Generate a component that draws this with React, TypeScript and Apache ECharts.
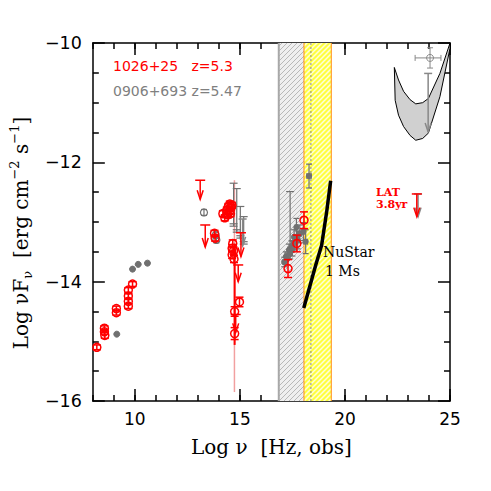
import React, { useEffect, useRef } from 'react';
import * as echarts from 'echarts';

// ---------------- data ----------------
const xTickLabels = [10, 15, 20, 25];
const yTickLabels = [-16, -14, -12, -10];

// 1026+25 (red) open circles with symmetric y errors
const redX = [8.19, 8.55, 8.55, 8.57, 9.12, 9.12, 9.69, 9.69, 9.69, 9.69, 9.89,
  13.79, 13.82,
  14.19, 14.28, 14.38, 14.45, 14.52, 14.58, 14.62, 14.5, 14.42, 14.55,
  14.66, 14.63, 14.63, 14.98, 14.75, 14.75, 14.72, 14.7,
  17.29, 17.71, 18.05];
const redY = [-15.10, -14.78, -14.84, -14.90, -14.45, -14.52, -14.14, -14.24, -14.33, -14.41, -14.04,
  -13.19, -13.27,
  -12.86, -12.93, -12.80, -12.74, -12.70, -12.76, -12.72, -12.82, -12.88, -12.86,
  -13.36, -13.44, -13.55, -14.34, -14.50, -14.87, -13.62, -13.48,
  -13.78, -13.36, -12.97];
const redErr = [0.04, 0.04, 0.04, 0.05, 0.04, 0.04, 0.04, 0.04, 0.04, 0.04, 0.04,
  0.05, 0.05,
  0.05, 0.05, 0.05, 0.05, 0.05, 0.05, 0.05, 0.05, 0.05, 0.05,
  0.06, 0.06, 0.06, 0.08, 0.08, 0.1, 0.06, 0.06,
  0.15, 0.14, 0.14];

// red long optical error bars
const redBarX = [14.75];
const redBarLo = [-15.06];
const redBarHi = [-13.36];
const pinkBarX = [14.74];
const pinkBarLo = [-15.85];
const pinkBarHi = [-12.30];

// red upper limits
const redUlX = [13.11, 13.35, 15.05, 14.92, 14.80];
const redUlTop = [-12.30, -13.05, -13.18, -13.72, -14.55];
const redUlTip = [-12.62, -13.42, -13.58, -14.0, -14.85];

// Fermi-LAT 3.8 yr upper limit
const latX = [23.42];
const latTop = [-12.53];
const latTip = [-12.91];

// 0906+693 (grey)
const greyRadioX = [9.14, 9.89, 10.16, 10.60];
const greyRadioY = [-14.88, -13.79, -13.71, -13.69];

const greyOptX = [13.29, 13.85, 13.88];
const greyOptY = [-12.84, -13.22, -13.30];
const greyOptErr = [0.05, 0.05, 0.05];

const greyBarX = [14.70, 14.85, 15.02, 15.18];
const greyBarLo = [-13.05, -13.15, -13.25, -13.35];
const greyBarHi = [-12.35, -12.44, -12.74, -12.91];

const greyUlX = [15.13, 23.48, 23.96];
const greyUlTop = [-12.95, -12.53, -10.51];
const greyUlTip = [-13.40, -12.91, -11.49];

const greyXrayX = [17.11, 17.19, 17.25, 17.34, 17.39, 17.46, 17.5, 17.58, 17.62, 17.69, 17.75, 17.85, 18.02, 18.13, 18.29];
const greyXrayY = [-13.67, -13.58, -13.62, -13.47, -13.52, -13.41, -13.45, -13.25, -13.35, -13.09, -13.3, -13.2, -13.16, -13.33, -12.23];
const greyXrayErr = [0.08, 0.08, 0.1, 0.1, 0.1, 0.1, 0.12, 0.12, 0.12, 0.15, 0.15, 0.15, 0.15, 0.2, 0.2];
const greyXrayXErr = [0.06, 0.06, 0.06, 0.06, 0.06, 0.06, 0.06, 0.06, 0.06, 0.06, 0.06, 0.06, 0.06, 0.08, 0.1];

const greyLongX = [17.39];
const greyLongLo = [-13.6];
const greyLongHi = [-12.49];

const greyGammaX = [24.05];
const greyGammaY = [-10.25];
const greyGammaXLo = [23.34];
const greyGammaXHi = [24.57];
const greyGammaErr = [0.17];

// LAT butterfly
const bowUpX = [22.35, 22.55, 22.79, 23.10, 23.37, 23.70, 23.97, 24.52, 25.0];
const bowUpY = [-10.41, -10.62, -10.81, -10.95, -11.02, -11.00, -10.93, -10.51, -10.0];
const bowLoX = [22.39, 22.55, 22.79, 23.10, 23.37, 23.70, 23.97, 24.52, 25.0];
const bowLoY = [-10.96, -11.21, -11.40, -11.55, -11.63, -11.60, -11.51, -10.90, -10.09];

// NuSTAR 1 Ms sensitivity
const nuX = [18.04, 18.61, 18.89, 19.13, 19.32];
const nuY = [-14.44, -13.72, -13.39, -12.83, -12.31];

// bands
const xrtBand = [16.85, 18.38];
const nuBand = [18.05, 19.35];

// ---------------- styling helpers ----------------
const RED = '#ff0000';
const GREY = '#707070';
const PINK = '#f2a0a0';
const SANS = 'DejaVu Sans';
const SERIF = 'DejaVu Serif';

const fmt = (v: number) => String(v).replace('-', '\u2212');

const hatch = (bg: string, fg: string, w: number) => ({
  image: 'data:image/svg+xml;charset=utf-8,' + encodeURIComponent(
    `<svg xmlns="http://www.w3.org/2000/svg" width="5" height="5"><rect width="5" height="5" fill="${bg}"/><path d="M-1 1 L1 -1 M0 5 L5 0 M4 6 L6 4" stroke="${fg}" stroke-width="${w}"/></svg>`),
  repeat: 'repeat',
  imageWidth: 5,
  imageHeight: 5,
});

const ln = (x1: number, y1: number, x2: number, y2: number, color: string, lw: number, dash?: number[]) => ({
  type: 'line', shape: { x1, y1, x2, y2 }, style: { stroke: color, lineWidth: lw, lineDash: dash },
});

const errItem = (color: string, r: number, filled: boolean, cap: number, lw: number, xerr: boolean) =>
  (_p: any, api: any) => {
    const x = api.value(0), y = api.value(1);
    const c = api.coord([x, y]);
    const pl = api.coord([x, api.value(2)]);
    const ph = api.coord([x, api.value(3)]);
    const ch: any[] = [
      ln(c[0], pl[1], c[0], ph[1], color, lw),
      ln(c[0] - cap, pl[1], c[0] + cap, pl[1], color, lw),
      ln(c[0] - cap, ph[1], c[0] + cap, ph[1], color, lw),
    ];
    if (xerr) {
      const xl = api.coord([api.value(4), y]);
      const xh = api.coord([api.value(5), y]);
      ch.push(ln(xl[0], c[1], xh[0], c[1], color, lw));
      ch.push(ln(xl[0], c[1] - cap, xl[0], c[1] + cap, color, lw));
      ch.push(ln(xh[0], c[1] - cap, xh[0], c[1] + cap, color, lw));
    }
    if (r > 0) {
      ch.push({ type: 'circle', shape: { cx: c[0], cy: c[1], r },
        style: { fill: filled ? color : 'none', stroke: color, lineWidth: lw } });
    }
    return { type: 'group', children: ch };
  };

const ulItem = (color: string, lw: number, capW: number) => (_p: any, api: any) => {
  const t = api.coord([api.value(0), api.value(1)]);
  const b = api.coord([api.value(0), api.value(2)]);
  return {
    type: 'group',
    children: [
      ln(t[0] - capW, t[1], t[0] + capW, t[1], color, lw),
      ln(t[0], t[1], b[0], b[1], color, lw),
      { type: 'polyline', shape: { points: [[b[0] - 3, b[1] - 9], [b[0], b[1]], [b[0] + 3, b[1] - 9]] },
        style: { stroke: color, lineWidth: lw, fill: 'none' } },
    ],
  };
};

const barItem = (color: string, lw: number, cap: number) => (_p: any, api: any) => {
  const lo = api.coord([api.value(0), api.value(1)]);
  const hi = api.coord([api.value(0), api.value(2)]);
  const ch: any[] = [ln(lo[0], lo[1], hi[0], hi[1], color, lw)];
  if (cap > 0) {
    ch.push(ln(hi[0] - cap, hi[1], hi[0] + cap, hi[1], color, lw));
  }
  return { type: 'group', children: ch };
};

const bandItem = (fill: any, edge: string, edgeW: number, leftOnly: boolean) => (_p: any, api: any) => {
  const a = api.coord([api.value(0), -10]);
  const b = api.coord([api.value(1), -16]);
  const ch: any[] = [
    { type: 'rect', shape: { x: a[0], y: a[1], width: b[0] - a[0], height: b[1] - a[1] }, style: { fill } },
    ln(a[0], a[1], a[0], b[1], edge, edgeW),
  ];
  if (!leftOnly) ch.push(ln(b[0], a[1], b[0], b[1], edge, edgeW));
  return { type: 'group', children: ch };
};

const dottedItem = (_p: any, api: any) => {
  const a = api.coord([api.value(0), -10]);
  const b = api.coord([api.value(0), -16]);
  return ln(a[0], a[1], b[0], b[1], '#8a8a8a', 1, [2, 2]);
};

const bowItem = (_p: any, api: any) => {
  const pts: number[][] = [];
  bowUpX.forEach((x, i) => pts.push(api.coord([x, bowUpY[i]])));
  for (let i = bowLoX.length - 1; i >= 0; i--) pts.push(api.coord([bowLoX[i], bowLoY[i]]));
  return { type: 'polygon', shape: { points: pts, smooth: 0 }, style: { fill: '#d0d0d0', stroke: '#000', lineWidth: 1 } };
};

const custom = (data: any[], renderItem: any, z = 2) => ({
  type: 'custom', xAxisIndex: 0, yAxisIndex: 0, clip: true, z, data, renderItem,
  silent: true,
});

const axisLineStyle = { color: '#000', width: 1.5 };

export default function App() {
  const ref = useRef<HTMLDivElement>(null);
  useEffect(() => {
    const chart = echarts.init(ref.current!, null, { renderer: 'svg' });
    const baseX = (pos: string) => ({
      type: 'value', min: 8, max: 25, interval: 1, position: pos,
      axisLine: { show: true, onZero: false, lineStyle: axisLineStyle },
      axisTick: { show: true, inside: true, length: 6, lineStyle: axisLineStyle },
      axisLabel: { show: false },
      splitLine: { show: false },
    });
    const majorX = (pos: string) => ({
      type: 'value', min: 8, max: 25, position: pos,
      axisLine: { show: false, onZero: false },
      axisTick: { show: true, inside: true, length: 12, customValues: xTickLabels, lineStyle: axisLineStyle },
      axisLabel: { show: false },
      splitLine: { show: false },
    });
    const baseY = (pos: string) => ({
      type: 'value', min: -16, max: -10, interval: 2, position: pos,
      axisLine: { show: true, onZero: false, lineStyle: axisLineStyle },
      axisTick: { show: true, inside: true, length: 12, lineStyle: axisLineStyle },
      minorTick: { show: true, splitNumber: 4, length: 6, lineStyle: axisLineStyle },
      axisLabel: { show: false },
      splitLine: { show: false },
      minorSplitLine: { show: false },
    });
    const option: any = {
      animation: false,
      backgroundColor: '#fff',
      grid: { left: 91, top: 43, right: 41, bottom: 90, containLabel: false },
      xAxis: [
        {
          ...baseX('bottom'),
          axisLabel: {
            show: true, margin: 9, fontFamily: SANS, fontSize: 17, color: '#000',
            formatter: (v: number) => (xTickLabels.includes(v) ? fmt(v) : ''),
          },
          name: 'Log \u03bd  [Hz, obs]', nameLocation: 'middle', nameGap: 36,
          nameTextStyle: { fontFamily: SERIF, fontSize: 20, color: '#000' },
        },
        majorX('bottom'),
        baseX('top'),
        majorX('top'),
      ],
      yAxis: [
        {
          ...baseY('left'),
          axisLabel: {
            show: true, margin: 11, fontFamily: SANS, fontSize: 17.5, color: '#000',
            formatter: (v: number) => (yTickLabels.includes(v) ? fmt(v) : ''),
          },
          name: '{a|Log \u03bdF}{s|\u03bd}{a|  [erg cm}{p|\u22122}{a| s}{p|\u22121}{a|]}',
          nameLocation: 'middle', nameGap: 56, nameRotate: 90,
          nameTextStyle: {
            fontFamily: SERIF, fontSize: 20, color: '#000',
            padding: [0, 22, 0, 0],
            rich: {
              a: { fontFamily: SERIF, fontSize: 20, color: '#000', lineHeight: 26 },
              s: { fontFamily: SERIF, fontSize: 13, color: '#000', lineHeight: 13, verticalAlign: 'bottom' },
              p: { fontFamily: SERIF, fontSize: 13, color: '#000', lineHeight: 13, verticalAlign: 'top' },
            },
          },
        },
        baseY('right'),
      ],
      series: [
        custom([[xrtBand[0], xrtBand[1]]], bandItem(hatch('#efefef', '#b8b8b8', 1), '#a8a8a8', 2, true), 1),
        custom([[nuBand[0], nuBand[1]]], bandItem(hatch('#ffff40', '#ffffd8', 1.5), '#ff8c1a', 1, false), 1),
        custom([[xrtBand[1]]], dottedItem, 1),
        custom([[0]], bowItem, 2),
        custom(pinkBarX.map((x, i) => [x, pinkBarLo[i], pinkBarHi[i]]), barItem(PINK, 1.5, 0), 2),
        // grey data
        custom(greyRadioX.map((x, i) => [x, greyRadioY[i], greyRadioY[i], greyRadioY[i]]), errItem(GREY, 3, true, 0, 1, false), 3),
        custom(greyOptX.map((x, i) => [x, greyOptY[i], greyOptY[i] - greyOptErr[i], greyOptY[i] + greyOptErr[i]]), errItem(GREY, 3.5, false, 3, 1.2, false), 3),
        custom(greyBarX.map((x, i) => [x, greyBarLo[i], greyBarHi[i]]), barItem(GREY, 1.2, 4), 3),
        custom(greyBarX.map((x, i) => [x, greyBarLo[i], greyBarLo[i] - 0.02, greyBarLo[i] + 0.02]), errItem(GREY, 0, false, 4, 1.2, false), 3),
        custom(greyLongX.map((x, i) => [x, greyLongLo[i], greyLongHi[i]]), barItem(GREY, 1.2, 4), 3),
        custom(greyXrayX.map((x, i) => [x, greyXrayY[i], greyXrayY[i] - greyXrayErr[i], greyXrayY[i] + greyXrayErr[i], x - greyXrayXErr[i], x + greyXrayXErr[i]]), errItem(GREY, 2.5, true, 3, 1.2, true), 3),
        custom(greyGammaX.map((x, i) => [x, greyGammaY[i], greyGammaY[i] - greyGammaErr[i], greyGammaY[i] + greyGammaErr[i], greyGammaXLo[i], greyGammaXHi[i]]), errItem('#888888', 3.5, false, 3, 1, true), 3),
        custom(greyUlX.map((x, i) => [x, greyUlTop[i], greyUlTip[i]]), ulItem('#888888', 1.5, 4), 3),
        // red data
        custom(redBarX.map((x, i) => [x, redBarLo[i], redBarHi[i]]), barItem(RED, 2, 0), 4),
        custom(redX.map((x, i) => [x, redY[i], redY[i] - redErr[i], redY[i] + redErr[i]]), errItem(RED, 4, false, 4, 1.5, false), 4),
        custom(redUlX.map((x, i) => [x, redUlTop[i], redUlTip[i]]), ulItem(RED, 1.5, 5), 4),
        custom(latX.map((x, i) => [x, latTop[i], latTip[i]]), ulItem(RED, 1.5, 5), 4),
        // NuSTAR curve
        {
          type: 'line', xAxisIndex: 0, yAxisIndex: 0, z: 5, symbol: 'none',
          data: nuX.map((x, i) => [x, nuY[i]]),
          lineStyle: { color: '#000', width: 3.5 },
          silent: true,
        },
      ],
      graphic: [
        { type: 'text', z: 100, left: 113, top: 59, style: { text: '1026+25   z=5.3', fill: RED, font: `14px "${SANS}"` } },
        { type: 'text', z: 100, left: 113, top: 84, style: { text: '0906+693 z=5.47', fill: '#808080', font: `14px "${SANS}"` } },
        { type: 'text', z: 100, left: 323, top: 245, style: { text: 'NuStar', fill: '#000', font: `14px "${SERIF}"` } },
        { type: 'text', z: 100, left: 325, top: 264, style: { text: '1 Ms', fill: '#000', font: `14px "${SERIF}"` } },
        { type: 'text', z: 100, left: 376, top: 187, style: { text: 'LAT', fill: RED, font: `bold 11px "${SERIF}"` } },
        { type: 'text', z: 100, left: 376, top: 199, style: { text: '3.8yr', fill: RED, font: `bold 11px "${SERIF}"` } },
      ],
    };
    chart.setOption(option);
    return () => chart.dispose();
  }, []);
  return <div ref={ref} style={{ position: 'fixed', left: 0, top: 0, width: 491, height: 491 }} />;
}
